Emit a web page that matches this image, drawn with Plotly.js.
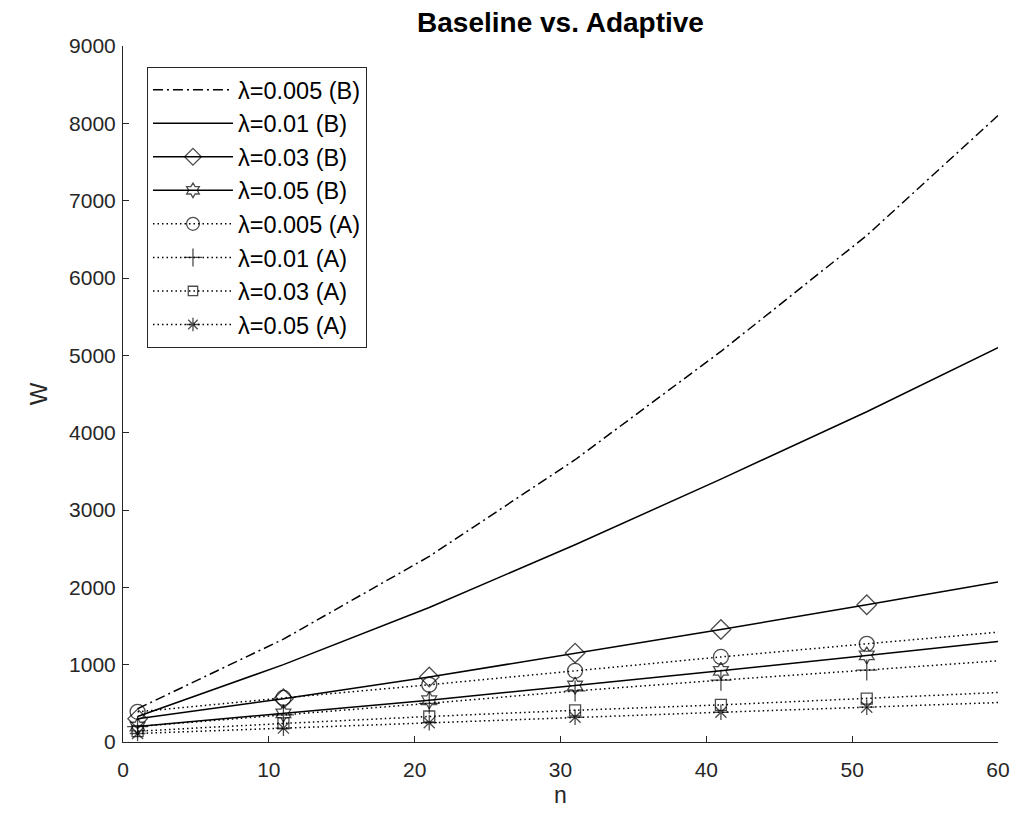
<!DOCTYPE html>
<html>
<head>
<meta charset="utf-8">
<script src="https://cdn.plot.ly/plotly-3.0.1.min.js"></script>
<style>html,body{margin:0;padding:0;background:#fff;}#chart{width:1019px;height:828px;}</style>
</head>
<body>
<div id="chart"></div>
<script>
// x positions (n) where values were read
const n = [1, 11, 21, 31, 41, 51, 60];
// Baseline (B)
const B_005 = [430, 1330, 2400, 3650, 5050, 6550, 8100];
const B_01  = [330, 1000, 1740, 2550, 3400, 4270, 5100];
const B_03  = [300, 560, 840, 1150, 1455, 1775, 2070];
const B_05  = [200, 370, 540, 730, 920, 1120, 1300];
// Adaptive (A)
const A_005 = [390, 570, 740, 920, 1100, 1270, 1420];
const A_01  = [200, 350, 500, 660, 800, 930, 1050];
const A_03  = [140, 240, 330, 410, 480, 560, 640];
const A_05  = [110, 180, 250, 320, 385, 450, 510];

const names = ['λ=0.005 (B)','λ=0.01 (B)','λ=0.03 (B)','λ=0.05 (B)','λ=0.005 (A)','λ=0.01 (A)','λ=0.03 (A)','λ=0.05 (A)'];
const series = [B_005, B_01, B_03, B_05, A_005, A_01, A_03, A_05];
const dashes = ['10px,4px,2px,4px','solid','solid','solid','1.5px,3px','1.5px,3px','1.5px,3px','1.5px,3px'];
const symbols = [null, null, 'diamond-open', 'hexagram-open', 'circle-open', 'cross-thin-open', 'square-open', 'asterisk-open'];
const msizes = [0, 0, 15, 13, 15, 15, 11, 13];

const traces = series.map((ys, i) => {
  const t = {
    x: n, y: ys, name: names[i], type: 'scatter',
    legendgroup: 'g' + i,
    line: {color: '#000', width: 1.5, dash: dashes[i]},
    mode: symbols[i] ? 'lines+markers' : 'lines'
  };
  if (symbols[i]) {
    const s = msizes[i];
    t.marker = {symbol: symbols[i], size: n.map(v => v === 60 ? 0 : s), color: '#000',
      line: {color: '#000', width: 1.3}};
  }
  return t;
});

const layout = {
  width: 1019, height: 828,
  paper_bgcolor: '#fff', plot_bgcolor: '#fff',
  margin: {l: 123, r: 21, t: 46, b: 86},
  title: {text: '<b>Baseline vs. Adaptive</b>', font: {family: 'Liberation Sans, Arial, sans-serif', size: 28, color: '#000'},
    x: 0.5, xref: 'paper', y: 1 - 22 / 828, yref: 'container', yanchor: 'middle'},
  font: {family: 'Liberation Sans, Arial, sans-serif', color: '#262626'},
  xaxis: {
    range: [0, 60], dtick: 10, tick0: 0, ticks: 'inside', ticklen: 6, tickcolor: '#262626',
    showline: true, linecolor: '#262626', linewidth: 1, showgrid: false, zeroline: false,
    tickfont: {size: 21, color: '#262626'}, mirror: false, ticklabelstandoff: 9
  },
  yaxis: {
    range: [0, 9000], dtick: 1000, tick0: 0, ticks: 'inside', ticklen: 6, tickcolor: '#262626',
    showline: true, linecolor: '#262626', linewidth: 1, showgrid: false, zeroline: false,
    tickfont: {size: 21, color: '#262626'}, ticklabelstandoff: 2,
    title: {text: 'W', font: {size: 24, color: '#262626'}, standoff: 14}
  },
  annotations: [{
    text: 'n', xref: 'paper', yref: 'paper', x: 0.5, y: (742 - 795) / 696,
    xanchor: 'center', yanchor: 'middle', showarrow: false,
    font: {size: 23, color: '#262626', family: 'Liberation Sans, Arial, sans-serif'}
  }],
  legend: {
    x: 0.0274, y: 0.97, xanchor: 'left', yanchor: 'top',
    bgcolor: '#fff', bordercolor: '#262626', borderwidth: 1,
    font: {size: 23.5, color: '#000'}, itemwidth: 80,
    traceorder: 'grouped', tracegroupgap: 0
  },
  showlegend: true
};

Plotly.newPlot('chart', traces, layout, {displayModeBar: false, staticPlot: true});
</script>
</body>
</html>
